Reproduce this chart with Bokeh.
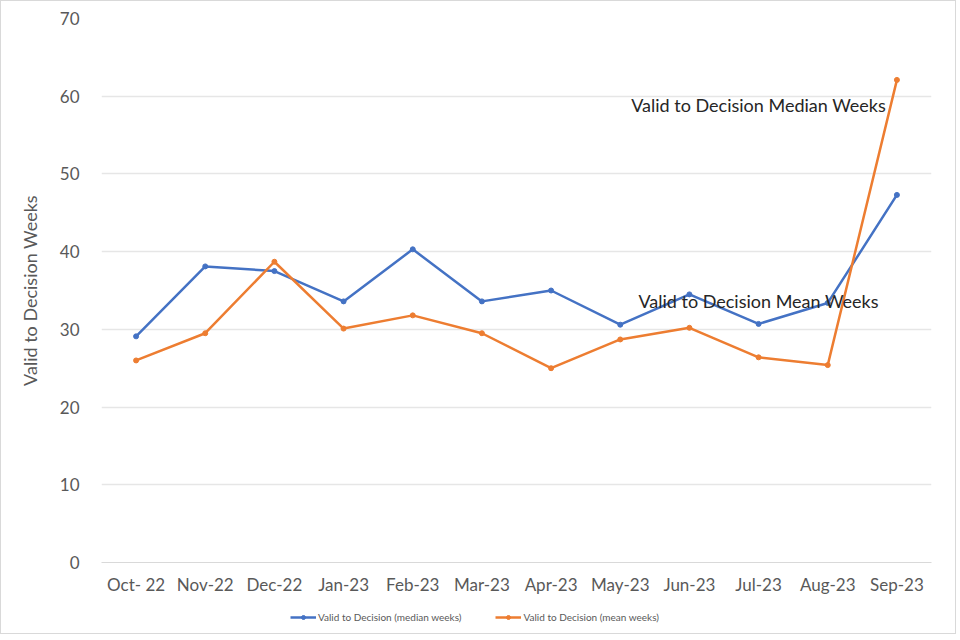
from bokeh.plotting import figure
from bokeh.layouts import column
from bokeh.models import Legend, LegendItem, ColumnDataSource, Range1d, SingleIntervalTicker
from bokeh.core.properties import value
from bokeh.embed import file_html
from bokeh.resources import INLINE

months = ["Oct- 22", "Nov-22", "Dec-22", "Jan-23", "Feb-23", "Mar-23", "Apr-23",
          "May-23", "Jun-23", "Jul-23", "Aug-23", "Sep-23"]
median_weeks = [29.1, 38.1, 37.5, 33.6, 40.3, 33.6, 35.0, 30.6, 34.5, 30.7, 33.4, 47.3]
mean_weeks = [26.0, 29.5, 38.7, 30.1, 31.8, 29.5, 25.0, 28.7, 30.2, 26.4, 25.4, 62.1]
series_names = ["Valid to Decision (median weeks)", "Valid to Decision (mean weeks)"]
annot_texts = ["Valid to Decision Median Weeks", "Valid to Decision Mean Weeks"]
annot_x = ["Jul-23", "Jul-23"]
annot_y = [58.9, 33.7]

FONT = "Lato"
GREY = "#595959"
BLUE = "#4472C4"
ORANGE = "#ED7D31"

p = figure(x_range=months, width=954, height=604, output_backend="svg",
           toolbar_location=None, min_border_left=100, min_border_right=24,
           min_border_top=17, min_border_bottom=43)
p.y_range = Range1d(0, 70)
p.outline_line_color = None

src = ColumnDataSource(dict(m=months, med=median_weeks, mean=mean_weeks))
l1 = p.line("m", "med", source=src, line_color=BLUE, line_width=2.5)
s1 = p.scatter("m", "med", source=src, size=5, color=BLUE)
l2 = p.line("m", "mean", source=src, line_color=ORANGE, line_width=2.5)
s2 = p.scatter("m", "mean", source=src, size=5, color=ORANGE)

p.text(x=annot_x, y=annot_y, text=annot_texts, text_font=value(FONT),
       text_font_size="18px", text_color="#262626", text_align="center",
       text_baseline="middle")

p.yaxis.ticker = SingleIntervalTicker(interval=10)
p.yaxis.axis_line_color = None
p.yaxis.major_tick_line_color = None
p.yaxis.minor_tick_line_color = None
p.yaxis.axis_label = "Valid to Decision Weeks"
p.yaxis.axis_label_text_font = FONT
p.yaxis.axis_label_text_font_style = "normal"
p.yaxis.axis_label_text_font_size = "18px"
p.yaxis.axis_label_text_color = GREY
p.yaxis.axis_label_standoff = 16
p.yaxis.major_label_standoff = 16
for ax in (p.xaxis, p.yaxis):
    ax.major_label_text_font = FONT
    ax.major_label_text_font_size = "17px"
    ax.major_label_text_color = GREY
p.xaxis.axis_line_color = "#d9d9d9"
p.xaxis.major_tick_line_color = None
p.xaxis.minor_tick_line_color = None
p.xaxis.major_tick_out = 0
p.xaxis.major_tick_in = 0
p.xaxis.major_label_standoff = 11

p.xgrid.grid_line_color = None
p.ygrid.grid_line_color = "#e6e6e6"
p.ygrid.grid_line_width = 1.5

# legend strip below the chart (same data, plotted out of view; only the legend shows)
lg = figure(x_range=months, width=954, height=28, output_backend="svg",
            toolbar_location=None, x_axis_type=None, y_axis_type=None,
            min_border=0, y_range=Range1d(1000, 1001))
lg.outline_line_color = None
lg.grid.visible = False
g1 = lg.line("m", "med", source=src, line_color=BLUE, line_width=2.5)
g1s = lg.scatter("m", "med", source=src, size=5, color=BLUE)
g2 = lg.line("m", "mean", source=src, line_color=ORANGE, line_width=2.5)
g2s = lg.scatter("m", "mean", source=src, size=5, color=ORANGE)
legend = Legend(items=[LegendItem(label=series_names[0], renderers=[g1, g1s], index=0),
                       LegendItem(label=series_names[1], renderers=[g2, g2s], index=0)],
                orientation="horizontal", location=(189, 10),
                label_text_font=FONT, label_text_font_size="10px",
                label_text_color=GREY, border_line_color=None,
                background_fill_alpha=0,
                glyph_width=26, glyph_height=10, label_standoff=2, spacing=34,
                margin=0, padding=2, label_height=10)
lg.add_layout(legend, "center")

layout = column(p, lg, spacing=0)
layout.styles = {"border": "1px solid #d9d9d9"}

open("out.html", "w").write(file_html(layout, INLINE))
